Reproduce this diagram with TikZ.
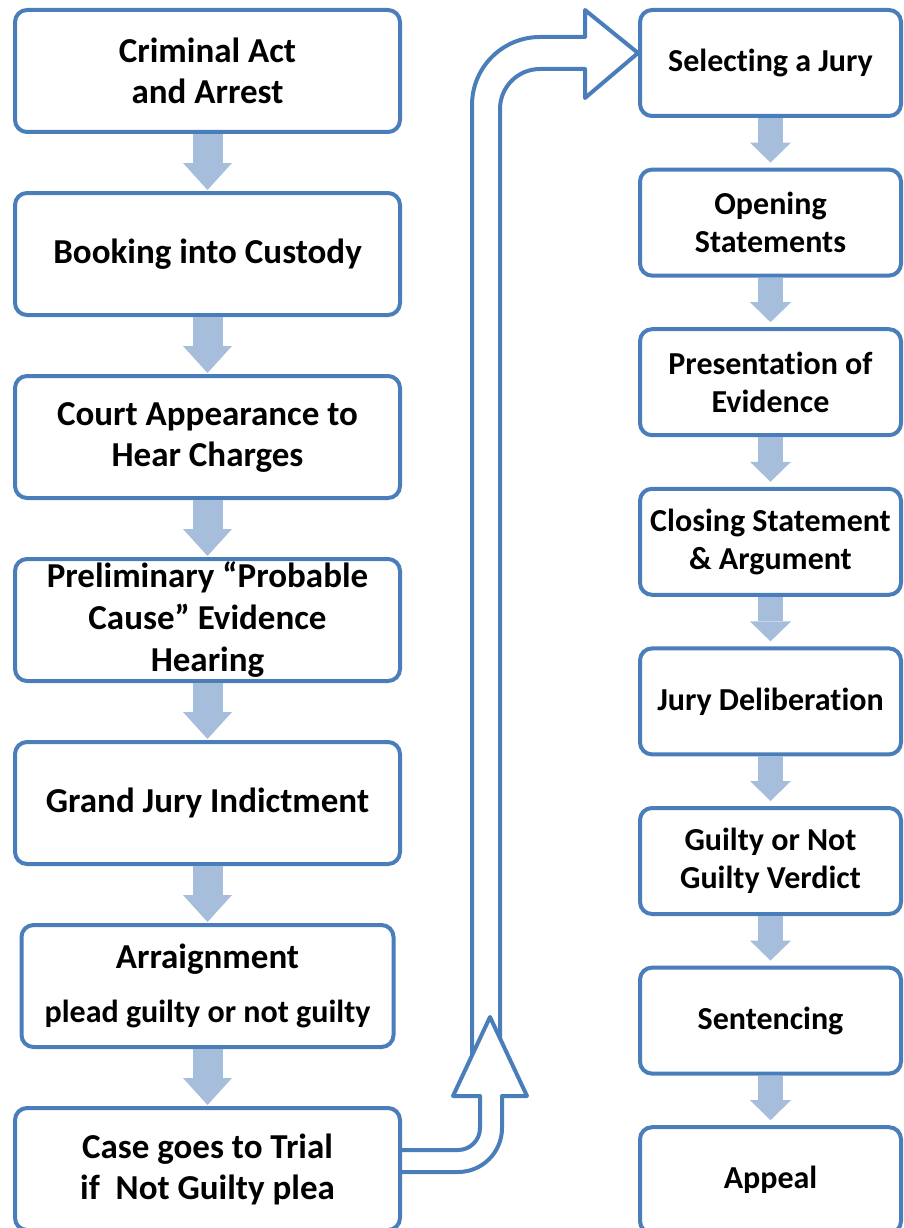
\documentclass[tikz,border=0pt]{standalone}
\usepackage{fontspec}
\setmainfont{Carlito}[Ligatures=NoCommon]
\usepackage{tikz}
\usetikzlibrary{arrows.meta, positioning, backgrounds}
\usepackage{xcolor}
\definecolor{boxblue}{HTML}{4A7EBB}
\definecolor{flowblue}{HTML}{A7BDDC}

\begin{document}
\begin{tikzpicture}[x=1pt, y=-1pt,
    leftbox/.style={rectangle, rounded corners=12pt, draw=boxblue, line width=4pt,
                    fill=white, minimum width=385pt, minimum height=122pt,
                    inner sep=2pt, align=center, text centered,
                    font=\fontsize{35}{41}\selectfont\bfseries},
    rightbox/.style={rectangle, rounded corners=12pt, draw=boxblue, line width=4pt,
                     fill=white, minimum width=261pt, minimum height=106pt,
                     inner sep=2pt, align=center, text centered,
                     font=\fontsize{32}{38}\selectfont\bfseries},
    flow/.style={draw=flowblue, line width=30pt,
                 -{Triangle[width=49pt, length=27pt, line width=0pt]}, shorten >=1pt},
    smallflow/.style={draw=flowblue, line width=25pt,
                      -{Triangle[width=41pt, length=20pt, line width=0pt]}, shorten >=5pt},
    bigarrow/.style={draw=boxblue, line width=4pt, fill=white, line join=round}
  ]
    \useasboundingbox (0,0) rectangle (903,1228);

    % left column: from arrest to trial
    \node[leftbox] (crime) at (207.5,71) {Criminal Act\\and Arrest};
    \node[leftbox, below=57pt of crime] (booking) {Booking into Custody};
    \node[leftbox, below=57pt of booking] (court) {Court Appearance to\\Hear Charges};
    \node[leftbox, below=57pt of court, font=\fontsize{35}{42}\selectfont\bfseries] (prelim)
      {Preliminary “Probable\\Cause” Evidence\\Hearing};
    \node[leftbox, below=57pt of prelim] (grand) {Grand Jury Indictment};
    \node[leftbox, minimum width=372pt, below=57pt of grand] (arraign)
      {Arraignment\\[13pt]{\fontsize{32}{34}\selectfont plead guilty or not guilty}};
    \node[leftbox, below=57pt of arraign] (trial) {Case goes to Trial\\if~ Not Guilty plea};

    % right column: the trial
    \node[rightbox] (select) at (770.5,63) {Selecting a Jury};
    \node[rightbox, below=49.6pt of select] (opening) {Opening\\Statements};
    \node[rightbox, below=49.6pt of opening] (evidence) {Presentation of\\Evidence};
    \node[rightbox, below=49.6pt of evidence] (closing) {Closing Statement\\\& Argument};
    \node[rightbox, below=49.6pt of closing] (deliberation) {Jury Deliberation};
    \node[rightbox, below=49.6pt of deliberation] (verdict) {Guilty or Not\\Guilty Verdict};
    \node[rightbox, below=49.6pt of verdict] (sentencing) {Sentencing};
    \node[rightbox, below=49.6pt of sentencing] (appeal) {Appeal};

    \draw[flow] (crime) -- (booking);
    \draw[flow] (booking) -- (court);
    \draw[flow] (court) -- (prelim);
    \draw[flow] (prelim) -- (grand);
    \draw[flow] (grand) -- (arraign);
    \draw[flow] (arraign) -- (trial);

    \draw[smallflow] (select) -- (opening);
    \draw[smallflow] (opening) -- (evidence);
    \draw[smallflow] (evidence) -- (closing);
    \draw[smallflow] (closing) -- (deliberation);
    \draw[smallflow] (deliberation) -- (verdict);
    \draw[smallflow] (verdict) -- (sentencing);
    \draw[smallflow] (sentencing) -- (appeal);

    % outline arrows from the trial box over to the jury
    \begin{scope}[on background layer]
      \draw[bigarrow] (472,1065) -- (472,105) arc[start angle=180, end angle=90, radius=68pt]
        -- (585,37) -- (585,10) -- (select.west |- 0,53) -- (585,98) -- (585,69) -- (540,69)
        arc[start angle=90, end angle=180, radius=40pt] -- (500,1065) -- cycle;
      \draw[bigarrow] (trial.east |- 0,1150) -- (458,1150) arc[start angle=270, end angle=360, radius=22pt]
        -- (480,1096) -- (453,1096) -- (490,1017) -- (527,1096) -- (502,1096) -- (502,1128)
        arc[start angle=0, end angle=-90, radius=44pt] -- (trial.east |- 0,1172);
    \end{scope}
  \end{tikzpicture}
\end{document}
